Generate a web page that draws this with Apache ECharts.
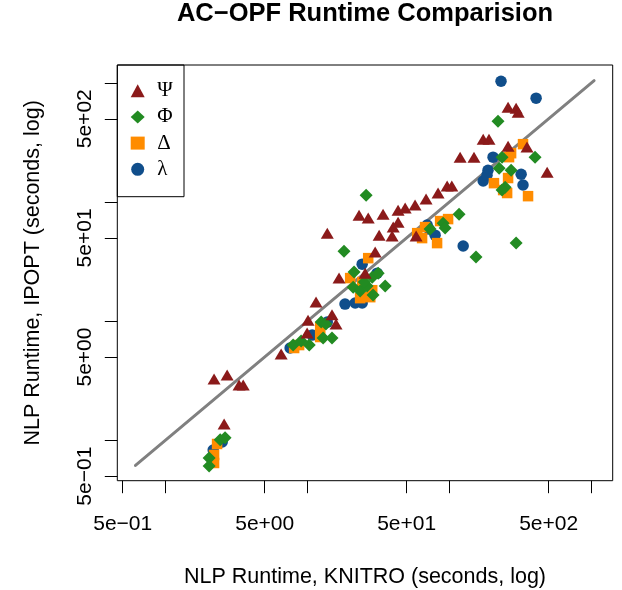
<!DOCTYPE html>
<html><head><meta charset="utf-8">
<script src="https://cdn.jsdelivr.net/npm/echarts@6/dist/echarts.min.js"></script>
<style>html,body{margin:0;padding:0;background:#fff}#c{width:622px;height:590px}</style>
</head><body><div id="c"></div>
<script>
// ---- data (seconds) ----
const psiX = [2.20,2.72,3.30,3.53,2.59,6.53,9.95,10.1,11.5,14.9,15.9,13.8,16.7,25.5,30.0,23.1,26.8,34.1,32.0,39.5,40.2,43.5,43.5,48.8,57.3,68.5,83.2,96.4,104,58.3,119,149,173,190,259,295,305,259,352,488];
const psiY = [3.27,3.53,2.91,2.91,1.37,5.30,7.94,10.2,14.5,11.3,9.45,54.8,23.0,25.3,38.0,77.6,73.3,79.1,52.7,51.8,61.6,67.8,85.5,88.9,94.2,106,119,136,136,51.8,238,238,337,337,625,613,568,294,289,178];
const phiX = [2.03,2.03,2.43,2.63,7.93,9.03,10.3,12.9,14.9,12.5,13.5,18.1,21.3,25.9,21.0,23.5,26.3,28.6,31.5,35.3,29.0,25.1,73.1,90.3,93.3,117,154,220,235,224,272,401,247,235,295];
const phiY = [0.710,0.609,1.01,1.05,6.30,6.81,6.30,7.21,7.21,9.82,9.45,38.7,25.8,114,19.3,17.9,19.7,23.4,25.3,19.7,16.6,21.3,59.3,66.5,60.4,79.1,34.5,477,238,192,185,238,133,126,45.2];
const deltaX = [2.31,2.20,2.20,8.06,8.74,12.3,12.3,20.0,24.3,23.5,26.8,28.6,59.3,64.2,67.4,81.9,86.0,97.9,206,239,255,259,263,272,330,358,27.7];
const deltaY = [0.931,0.753,0.645,5.95,6.30,8.92,7.36,23.0,21.3,15.6,33.8,18.2,54.8,49.8,61.6,45.2,69.2,71.9,144,126,119,159,238,257,306,112,15.9];
const lambdaX = [2.17,2.51,7.55,10.8,13.8,18.4,21.7,24.3,24.3,31.0,69.7,71.9,79.3,125,231,408,203,187,173,184,320,330];
const lambdaY = [0.829,0.968,5.95,7.64,9.82,13.9,14.2,14.2,30.1,25.3,64.0,59.3,52.7,42.7,1033,744,238,185,150,168,171,139];
const diagEnds = [0.615, 1045];
const axisRange = [0.458, 1413];
const tickValues = [0.5, 1, 5, 10, 50, 100, 500, 1000];
const labelValues = [0.5, 5, 50, 500];
const tickLabels = ['5e\u221201', '5e+00', '5e+01', '5e+02'];
const legendNames = ['\u03A8', '\u03A6', '\u0394', '\u03BB'];

const FONT = 'Liberation Sans, Arial, Helvetica, sans-serif';
function fmt(v) {
  let best = 0, bd = Infinity;
  labelValues.forEach((lv, i) => { const d = Math.abs(Math.log10(v) - Math.log10(lv)); if (d < bd) { bd = d; best = i; } });
  return tickLabels[best];
}
const zip = (xs, ys) => xs.map((x, i) => [x, ys[i]]);
function axis(isY) {
  return {
    type: 'log', logBase: 10, min: axisRange[0], max: axisRange[1],
    axisLine: { show: false }, splitLine: { show: false }, minorTick: { show: false },
    axisTick: { show: true, inside: false, length: 12.5, lineStyle: { color: '#000', width: 1 }, customValues: tickValues },
    axisLabel: { customValues: labelValues, formatter: fmt, margin: isY ? 22 : 33, rotate: isY ? 90 : 0,
      color: '#000', fontFamily: FONT, fontSize: 21 },
    name: isY ? 'NLP Runtime, IPOPT (seconds, log)' : 'NLP Runtime, KNITRO (seconds, log)',
    nameLocation: 'middle', nameGap: isY ? 73 : 85,
    nameTextStyle: { color: '#000', fontFamily: FONT, fontSize: 21.5 }
  };
}
const chart = echarts.init(document.getElementById('c'));
chart.setOption({
  animation: false,
  backgroundColor: '#fff',
  grid: { left: 117.3, top: 65, right: 9.3, bottom: 109.3, containLabel: false, outerBoundsMode: 'none',
    show: true, borderColor: '#000', borderWidth: 1, backgroundColor: 'transparent' },
  xAxis: axis(false),
  yAxis: axis(true),
  legend: {
    data: legendNames, orient: 'vertical', left: 130.7, top: 77.6, padding: 0,
    itemWidth: 14, itemHeight: 13, itemGap: 0, selectedMode: false,
    textStyle: { fontFamily: 'Liberation Serif, Times New Roman, serif', fontSize: 21, color: '#000', lineHeight: 26.2, padding: [0, 0, 0, 7.5] }
  },
  graphic: [
    { type: 'text', x: 365, y: 14, style: { text: 'AC\u2212OPF Runtime Comparision', fill: '#000', font: 'bold 25.5px ' + FONT, textAlign: 'center', textVerticalAlign: 'middle' } },
    { type: 'rect', shape: { x: 117.3, y: 65, width: 66.7, height: 131.7 }, style: { fill: 'none', stroke: '#000', lineWidth: 1 }, z: 10 }
  ],
  series: [
    { type: 'line', name: 'diag', data: [[diagEnds[0], diagEnds[0]], [diagEnds[1], diagEnds[1]]], symbol: 'none', silent: true,
      lineStyle: { color: '#808080', width: 3, cap: 'round' }, z: 1 },
    { type: 'scatter', name: legendNames[3], data: zip(lambdaX, lambdaY), symbol: 'circle', symbolSize: 11.5, itemStyle: { color: '#104E8B', opacity: 1 }, z: 2 },
    { type: 'scatter', name: legendNames[2], data: zip(deltaX, deltaY), symbol: 'rect', symbolSize: 10.5, itemStyle: { color: '#FF8C00', opacity: 1 }, z: 3 },
    { type: 'scatter', name: legendNames[1], data: zip(phiX, phiY), symbol: 'diamond', symbolSize: 13, itemStyle: { color: '#228B22', opacity: 1 }, z: 4 },
    { type: 'scatter', name: legendNames[0], data: zip(psiX, psiY), symbol: 'triangle', symbolSize: [13, 11], itemStyle: { color: '#8B1A1A', opacity: 1 }, z: 5 }
  ]
});
</script></body></html>
